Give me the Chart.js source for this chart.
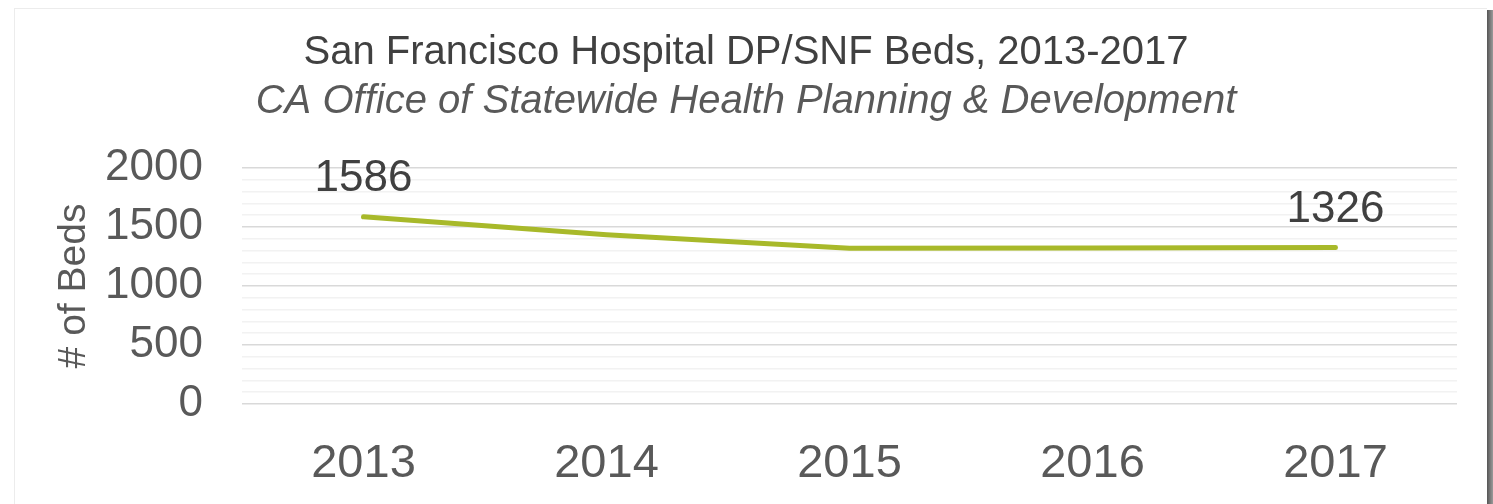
<!DOCTYPE html>
<html>
<head>
<meta charset="utf-8">
<script src="https://cdn.jsdelivr.net/npm/chart.js@4.4.1/dist/chart.umd.min.js"></script>
<style>
    html, body { margin: 0; padding: 0; background: #fff; }
    #frame {
        position: absolute;
        left: 14px; top: 8px;
        width: 1472px; height: 496px;
        border-top: 1px solid #ececec;
        border-left: 1px solid #ececec;
        background: #fff;
    }
    #shadow {
        position: absolute;
        left: 1487px; top: 10px;
        width: 6px; height: 494px;
        background: linear-gradient(to right, #555, #9a9a9a);
    }
    #wrap { position: absolute; left: 0; top: 0; width: 1472px; height: 496px; }
</style>
</head>
<body>
<div id="frame"><div id="wrap"><canvas id="bedsChart"></canvas></div></div>
<div id="shadow"></div>
<script>
const years = ['2013', '2014', '2015', '2016', '2017'];
const beds = [1586, 1435, 1320, 1322, 1326];
const labelledPoints = [0, 4];   // only first and last get a value label
const yTicks = [0, 500, 1000, 1500, 2000];

const FONT = '"Liberation Sans", Arial, sans-serif';

// draws the value labels above the first / last point
const pointLabels = {
    id: 'pointLabels',
    afterDatasetsDraw(chart) {
        const ctx = chart.ctx;
        const meta = chart.getDatasetMeta(0);
        ctx.save();
        ctx.font = `44px ${FONT}`;
        ctx.fillStyle = '#404040';
        ctx.textAlign = 'center';
        ctx.textBaseline = 'alphabetic';
        labelledPoints.forEach(i => {
            const pt = meta.data[i];
            ctx.fillText(String(beds[i]), pt.x, pt.y - 26);
        });
        ctx.restore();
    }
};

const ctx = document.getElementById('bedsChart').getContext('2d');
new Chart(ctx, {
    type: 'line',
    data: {
        labels: years,
        datasets: [{
            label: '# of Beds',
            data: beds,
            borderColor: '#a8b92a',
            borderWidth: 5,
            borderCapStyle: 'round',
            borderJoinStyle: 'round',
            pointRadius: 0,
            tension: 0,
            fill: false
        }]
    },
    options: {
        responsive: true,
        maintainAspectRatio: false,
        animation: false,
        layout: { padding: { left: 20, right: 30, top: 0, bottom: 0 } },
        plugins: {
            legend: { display: false },
            tooltip: { enabled: false },
            title: {
                display: true,
                text: 'San Francisco Hospital DP/SNF Beds, 2013-2017',
                color: '#404040',
                font: { family: FONT, size: 40, weight: 'normal' },
                padding: { top: 20, bottom: 1 }
            },
            subtitle: {
                display: true,
                text: 'CA Office of Statewide Health Planning & Development',
                color: '#595959',
                font: { family: FONT, size: 40, style: 'italic' },
                padding: { top: 0, bottom: 42 }
            }
        },
        scales: {
            x: {
                offset: true,
                afterFit(scale) { scale.height = 101; },
                grid: { display: false, drawTicks: false },
                border: { display: false },
                ticks: {
                    color: '#595959',
                    font: { family: FONT, size: 47 },
                    padding: 32
                }
            },
            y: {
                min: 0,
                max: 2000,
                afterFit(scale) { scale.width = 207; },
                ticks: {
                    stepSize: 100,
                    autoSkip: false,
                    color: '#595959',
                    font: { family: FONT, size: 44 },
                    padding: 39,
                    callback: v => yTicks.includes(v) ? v : ''
                },
                grid: {
                    drawTicks: false,
                    lineWidth: 1.5,
                    color: c => (c.tick && c.tick.value % 500 === 0) ? '#d9d9d9' : '#f2f2f2'
                },
                border: { display: false },
                title: {
                    display: true,
                    text: '# of Beds',
                    color: '#595959',
                    font: { family: FONT, size: 39 },
                    padding: { top: 16, bottom: 0 }
                }
            }
        }
    },
    plugins: [pointLabels]
});
</script>
</body>
</html>
